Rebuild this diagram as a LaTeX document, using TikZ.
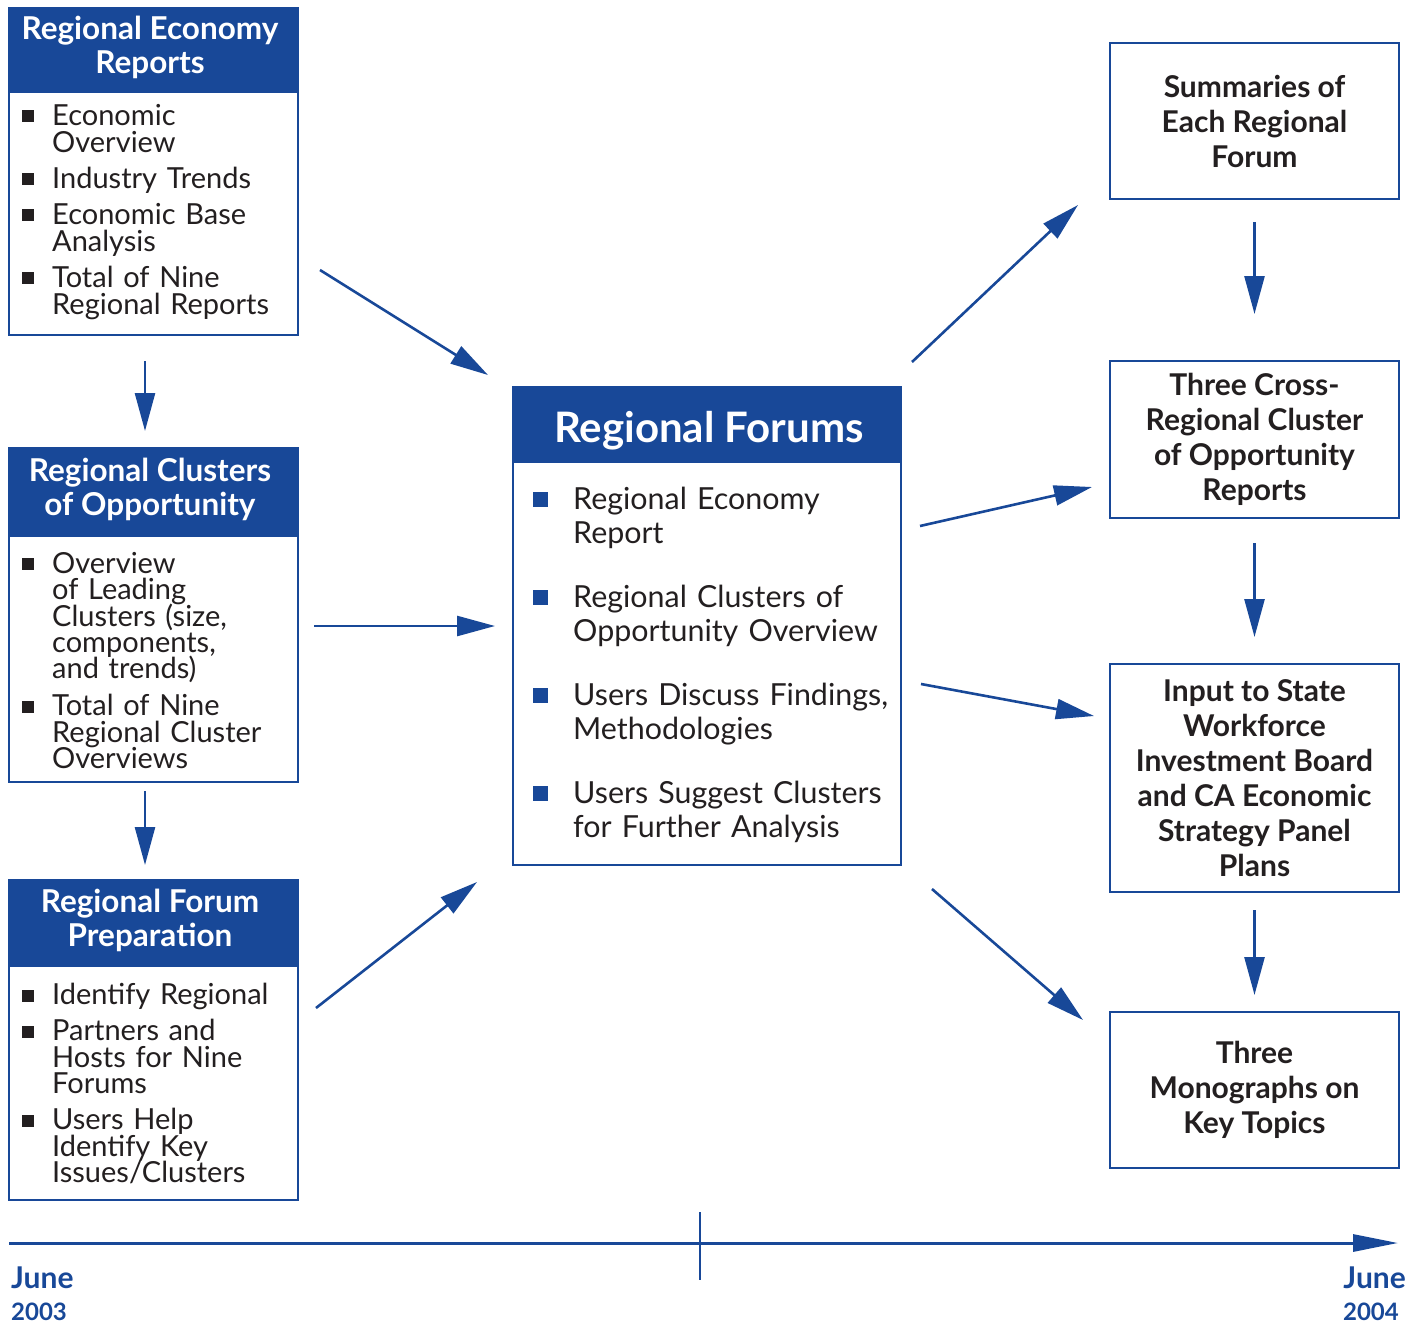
\documentclass[tikz,border=0pt]{standalone}
\usepackage{fontspec}
\setmainfont{Lato}
\usetikzlibrary{arrows.meta,calc}
\definecolor{navy}{RGB}{24,72,152}
\definecolor{ink}{RGB}{35,31,32}
\hyphenpenalty=10000
\exhyphenpenalty=10000
\newcommand\litem[1]{\noindent\hangindent=30pt\hangafter=1\makebox[30pt][l]{\textcolor{ink}{\rule[3pt]{12pt}{12pt}}}#1\par}
\newcommand\citem[1]{\noindent\hangindent=40pt\hangafter=1\makebox[40pt][l]{\textcolor{navy}{\rule[3pt]{15pt}{15pt}}}#1\par}
\tikzset{
  box/.style={draw=navy, line width=2pt, fill=white, inner sep=0pt},
  hdr/.style={fill=navy, draw=navy, line width=2pt, inner sep=0pt},
  hdrtext/.style={text=white, align=center, inner sep=0pt, font=\fontsize{31.5}{34}\selectfont\bfseries},
  ltext/.style={anchor=north west, text width=300pt, align=left, inner sep=0pt, text=ink,
    font=\fontsize{29}{27}\selectfont, execute at begin node={\lineskiplimit=-100pt}},
  ctext/.style={anchor=north west, text width=400pt, align=left, inner sep=0pt, text=ink,
    font=\fontsize{30.4}{34}\selectfont, execute at begin node={\lineskiplimit=-100pt}},
  rbox/.style={draw=navy, line width=2pt, fill=white, inner sep=0pt, minimum width=289pt,
    align=center, text=ink, font=\fontsize{30}{35}\selectfont\bfseries},
  conn/.style={navy, line width=2.6pt, -{Triangle[length=38pt,width=20pt]}},
  datelbl/.style={text=navy, inner sep=0pt, anchor=north west}
}
\begin{document}
\begin{tikzpicture}[x=1pt,y=-1pt]
\useasboundingbox (0,0) rectangle (1416,1328);
% left column
\node[box, minimum width=289pt, minimum height=327pt] (b1) at (153.5,171.5) {};
\node[hdr, minimum width=289pt, minimum height=84pt, anchor=north] (b1h) at (b1.north) {};
\node[hdrtext] (b1ht) at (150,47) {Regional Economy\\Reports};
\node[ltext] (b1t) at (22,104) {%
\litem{Economic\newline Overview}\vskip9pt
\litem{Industry Trends}\vskip9pt
\litem{Economic Base\newline Analysis}\vskip9pt
\litem{Total of Nine\newline Regional Reports}};

\node[box, minimum width=289pt, minimum height=334pt] (b2) at (153.5,615) {};
\node[hdr, minimum width=289pt, minimum height=88pt, anchor=north] (b2h) at (b2.north) {};
\node[hdrtext] (b2ht) at (150,489) {Regional Clusters\\of Opportunity};
\node[ltext, font=\fontsize{29}{26.4}\selectfont] (b2t) at (22,552) {%
\litem{Overview\newline of Leading\newline Clusters (size,\newline components,\newline and trends)}\vskip10.5pt
\litem{Total of Nine\newline Regional Cluster\newline Overviews}};

\node[box, minimum width=289pt, minimum height=320pt] (b3) at (153.5,1040) {};
\node[hdr, minimum width=289pt, minimum height=86pt, anchor=north] (b3h) at (b3.north) {};
\node[hdrtext] (b3ht) at (150,920) {Regional Forum\\Preparation};
\node[ltext, font=\fontsize{29}{26.5}\selectfont] (b3t) at (22,983) {%
\litem{Identify Regional}\vskip9.5pt
\litem{Partners and\newline Hosts for Nine\newline Forums}\vskip9.5pt
\litem{Users Help\newline Identify Key\newline Issues/Clusters}};

% centre
\node[box, minimum width=388pt, minimum height=478pt] (c) at (707,626) {};
\node[hdr, minimum width=388pt, minimum height=75pt, anchor=north] (ch) at (c.north) {};
\node[hdrtext, font=\fontsize{42}{42}\selectfont\bfseries] (cht) at (709,431) {Regional Forums};
\node[ctext] (ct) at (533,487) {%
\citem{Regional Economy\newline Report}\vskip30pt
\citem{Regional Clusters of\newline Opportunity Overview}\vskip30pt
\citem{Users Discuss Findings,\newline Methodologies}\vskip30pt
\citem{Users Suggest Clusters\newline for Further Analysis}};

% right column
\node[rbox, minimum height=156pt] (r1) at (1254.5,121) {Summaries of\\Each Regional\\Forum};
\node[rbox, minimum height=157pt] (r2) at (1254.5,439.5) {Three Cross-\\Regional Cluster\\of Opportunity\\Reports};
\node[rbox, minimum height=228pt] (r3) at (1254.5,778) {Input to State\\Workforce\\Investment Board\\and CA Economic\\Strategy Panel\\Plans};
\node[rbox, minimum height=156pt] (r4) at (1254.5,1090) {Three\\Monographs on\\Key Topics};

% connectors
\draw[conn, shorten <=25pt, shorten >=16pt] (b1.south -| 145,0) -- (b2.north -| 145,0);
\draw[conn, shorten <=8pt, shorten >=14pt] (b2.south -| 145,0) -- (b3.north -| 145,0);
\coordinate (a1s) at (320,270); \coordinate (a1e) at (488,375);
\coordinate (a2s) at (314,626); \coordinate (a2e) at (495,626);
\coordinate (a3s) at (316,1008); \coordinate (a3e) at (477,882);
\draw[conn] (a1s) -- (a1e);
\draw[conn] (a2s) -- (a2e);
\draw[conn] (a3s) -- (a3e);
\coordinate (o1s) at (912,362); \coordinate (o1e) at (1078,205);
\coordinate (o2s) at (920,526); \coordinate (o2e) at (1092,487);
\coordinate (o3s) at (921,684); \coordinate (o3e) at (1094,716);
\coordinate (o4s) at (932,889); \coordinate (o4e) at (1083,1020);
\draw[conn] (o1s) -- (o1e);
\draw[conn] (o2s) -- (o2e);
\draw[conn] (o3s) -- (o3e);
\draw[conn] (o4s) -- (o4e);
\draw[conn, shorten <=22pt, shorten >=46pt] (r1.south) -- (r2.north);
\draw[conn, shorten <=24pt, shorten >=26pt] (r2.south) -- (r3.north);
\draw[conn, shorten <=17pt, shorten >=16pt] (r3.south) -- (r4.north);

% timeline
\coordinate (t0) at (9,1243); \coordinate (t1) at (1398,1243);
\draw[navy, line width=3pt, -{Triangle[length=45pt,width=17pt]}] (t0) -- (t1);
\coordinate (k0) at (700,1212); \coordinate (k1) at (700,1280);
\draw[navy, line width=1.8pt] (k0) -- (k1);
\node[datelbl, font=\fontsize{30}{30}\selectfont\bfseries] (j1) at (11,1267) {June};
\node[datelbl, font=\fontsize{24}{24}\selectfont\bfseries] (y1) at (11,1303) {2003};
\node[datelbl, anchor=north east, font=\fontsize{30}{30}\selectfont\bfseries] (j2) at (1406,1267) {June};
\node[datelbl, anchor=north east, font=\fontsize{24}{24}\selectfont\bfseries] (y2) at (1399,1303) {2004};
\end{tikzpicture}
\end{document}
